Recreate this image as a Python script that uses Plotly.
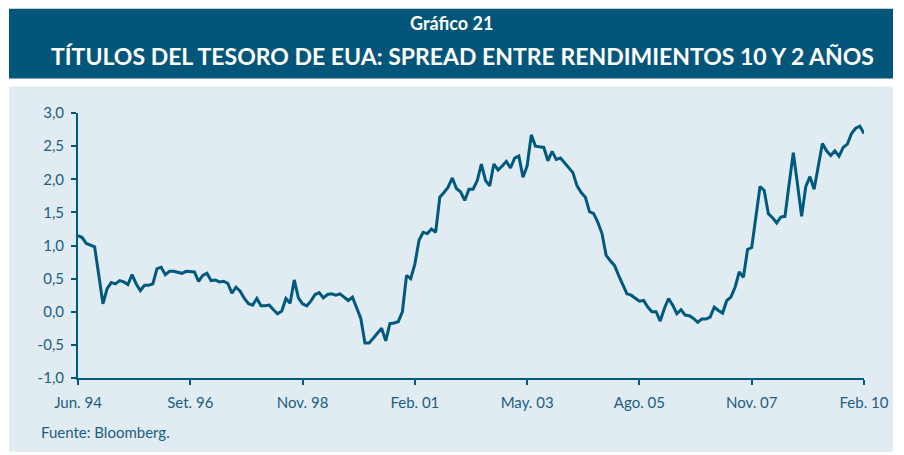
import plotly.graph_objects as go

# Spread 10Y - 2Y (monthly, Jun 1994 onwards)
spread = [
    1.15, 1.12, 1.03, 1.01, 0.98, 0.55, 0.12, 0.35, 0.44, 0.42,
    0.47, 0.45, 0.41, 0.56, 0.42, 0.32, 0.40, 0.40, 0.42, 0.65,
    0.67, 0.56, 0.61, 0.61, 0.60, 0.58, 0.61, 0.60, 0.60, 0.46,
    0.55, 0.58, 0.47, 0.48, 0.45, 0.46, 0.43, 0.28, 0.37, 0.31,
    0.20, 0.12, 0.10, 0.20, 0.09, 0.09, 0.10, 0.03, -0.03, 0.01,
    0.20, 0.13, 0.48, 0.21, 0.12, 0.09, 0.16, 0.26, 0.29, 0.21,
    0.26, 0.27, 0.25, 0.27, 0.22, 0.17, 0.22, 0.07, -0.10, -0.47,
    -0.47, -0.40, -0.33, -0.25, -0.44, -0.18, -0.17, -0.15, 0.00, 0.55,
    0.50, 0.72, 1.08, 1.20, 1.18, 1.25, 1.20, 1.73, 1.80, 1.88,
    2.02, 1.86, 1.81, 1.68, 1.85, 1.85, 1.98, 2.23, 1.98, 1.90,
    2.23, 2.14, 2.20, 2.27, 2.17, 2.32, 2.35, 2.03, 2.20, 2.67,
    2.50, 2.49, 2.48, 2.28, 2.42, 2.30, 2.32, 2.25, 2.18, 2.10,
    1.90, 1.80, 1.73, 1.51, 1.48, 1.35, 1.18, 0.85, 0.77, 0.70,
    0.55, 0.40, 0.27, 0.25, 0.20, 0.16, 0.17, 0.07, 0.00, 0.00,
    -0.14, 0.05, 0.20, 0.10, -0.03, 0.03, -0.05, -0.06, -0.10, -0.16,
    -0.11, -0.11, -0.08, 0.07, 0.02, -0.02, 0.17, 0.22, 0.37, 0.60,
    0.52, 0.94, 0.97, 1.43, 1.89, 1.83, 1.48, 1.42, 1.34, 1.43,
    1.44, 1.93, 2.40, 1.93, 1.44, 1.89, 2.04, 1.85, 2.20, 2.54,
    2.43, 2.36, 2.43, 2.35, 2.48, 2.53, 2.69, 2.77, 2.80, 2.69,
]
period = list(range(len(spread)))

x_tick_labels = ["Jun. 94", "Set. 96", "Nov. 98", "Feb. 01",
                 "May. 03", "Ago. 05", "Nov. 07", "Feb. 10"]
x_tick_index = [0, 27, 54, 81, 108, 135, 162, 189]
y_tick_values = [3.0, 2.5, 2.0, 1.5, 1.0, 0.5, 0.0, -0.5, -1.0]
y_tick_labels = ["3,0", "2,5", "2,0", "1,5", "1,0", "0,5", "0,0", "-0,5", "-1,0"]

BAND = "#03567A"
PANEL = "#E1EBF2"
LINE = "#005A7E"
TXT = "#1B5E80"
FONT = "Lato, sans-serif"

OFF = 8  # page body margin
W, H = 904 - OFF, 455 - OFF
# plot area in page pixels: left 78, right 864, top 112.5, bottom 378
L = 78 - OFF
R = W - (864 - OFF)
T = 112.5 - OFF
B = H - (378 - OFF)
pw, ph = W - L - R, H - T - B

def px(x):  # page pixel -> paper x
    return (x - OFF - L) / pw

def py(y):  # page pixel -> paper y
    return (H - B - (y - OFF)) / ph

fig = go.Figure()
fig.add_trace(go.Scatter(
    x=period, y=spread, mode="lines",
    line=dict(color=LINE, width=3),
    hoverinfo="skip", showlegend=False,
))

fig.update_layout(
    width=W, height=H,
    margin=dict(l=L, r=R, t=T, b=B, pad=0),
    paper_bgcolor="white",
    plot_bgcolor=PANEL,
    font=dict(family=FONT, color=TXT, size=15),
    shapes=[
        dict(type="rect", xref="paper", yref="paper", layer="below",
             x0=px(9), x1=px(893), y0=py(78), y1=py(8),
             fillcolor=BAND, line=dict(width=0)),
        dict(type="rect", xref="paper", yref="paper", layer="below",
             x0=px(9), x1=px(893), y0=py(452), y1=py(86),
             fillcolor=PANEL, line=dict(width=0)),
    ],
    annotations=[
        dict(text="<b>Gráfico 21</b>", xref="paper", yref="paper",
             x=px(451), y=py(22), xanchor="center", yanchor="middle",
             showarrow=False, font=dict(family=FONT, size=18, color="white")),
        dict(text="<b>TÍTULOS DEL TESORO DE EUA: SPREAD ENTRE RENDIMIENTOS 10 Y 2 AÑOS</b>",
             xref="paper", yref="paper",
             x=px(462), y=py(55), xanchor="center", yanchor="middle",
             showarrow=False, font=dict(family=FONT, size=23, color="white")),
        dict(text="Fuente: Bloomberg.", xref="paper", yref="paper",
             x=px(39), y=py(432), xanchor="left", yanchor="middle",
             showarrow=False, font=dict(family=FONT, size=15, color=TXT)),
    ],
    xaxis=dict(
        range=[0, 189], tickmode="array", tickvals=x_tick_index,
        ticktext=x_tick_labels, showgrid=False, zeroline=False,
        showline=True, linecolor=LINE, linewidth=2,
        ticks="outside", ticklen=5, tickcolor=LINE, tickwidth=1.5,
        ticklabelstandoff=5, tickfont=dict(size=15, color=TXT),
    ),
    yaxis=dict(
        range=[-1, 3], tickmode="array", tickvals=y_tick_values,
        ticktext=y_tick_labels, showgrid=False, zeroline=False,
        showline=True, linecolor=LINE, linewidth=2,
        ticks="outside", ticklen=5, tickcolor=LINE, tickwidth=1.5,
        ticklabelstandoff=4, tickfont=dict(size=15, color=TXT),
    ),
)

fig.write_html("out.html")
